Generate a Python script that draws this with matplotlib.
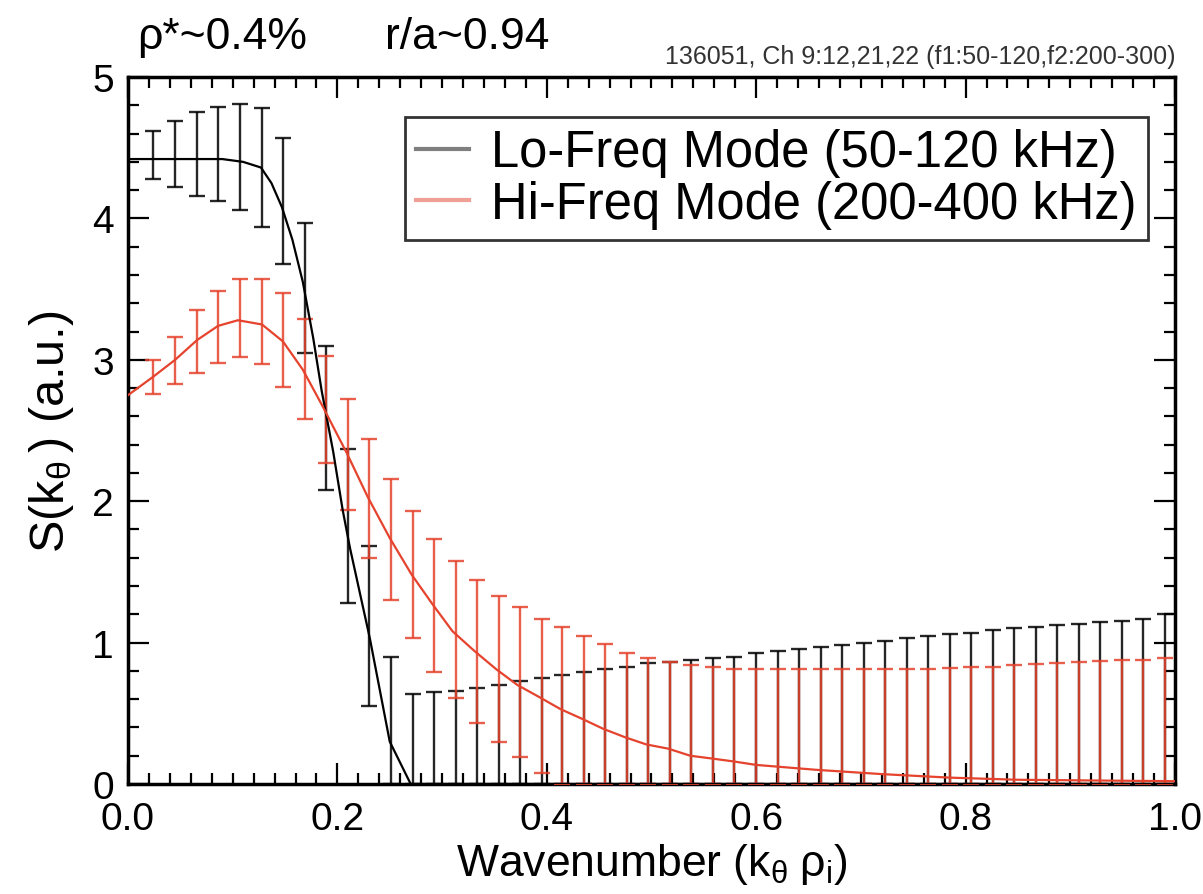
import numpy as np
import matplotlib
matplotlib.use("Agg")
import matplotlib.pyplot as plt

plt.rcParams['font.family'] = ['Liberation Sans', 'DejaVu Sans']
plt.rcParams['mathtext.fontset'] = 'custom'
plt.rcParams['mathtext.rm'] = 'Liberation Sans'
plt.rcParams['mathtext.it'] = 'Liberation Sans'
plt.rcParams['mathtext.default'] = 'regular'

# error bar positions (k_theta rho_i)
kx = [0.024, 0.045, 0.066, 0.086, 0.107, 0.128, 0.148, 0.169, 0.189, 0.210,
      0.230, 0.251, 0.272, 0.292, 0.313, 0.333, 0.354, 0.374, 0.395, 0.415,
      0.436, 0.456, 0.477, 0.497, 0.518, 0.538, 0.559, 0.579, 0.600, 0.621,
      0.641, 0.662, 0.682, 0.703, 0.723, 0.744, 0.764, 0.785, 0.805, 0.826,
      0.846, 0.867, 0.887, 0.908, 0.928, 0.949, 0.969, 0.990]

# low-frequency mode error bars (upper / lower)
lo_hi = [4.62, 4.69, 4.75, 4.79, 4.81, 4.78, 4.57, 3.97, 3.10, 2.37,
         1.68, 0.90, 0.64, 0.65, 0.66, 0.68, 0.70, 0.73, 0.75, 0.77,
         0.79, 0.81, 0.83, 0.855, 0.86, 0.875, 0.89, 0.90, 0.93, 0.94,
         0.955, 0.97, 0.985, 1.00, 1.01, 1.03, 1.05, 1.06, 1.07, 1.09,
         1.10, 1.11, 1.125, 1.13, 1.145, 1.155, 1.17, 1.20]
lo_lo = [4.28, 4.22, 4.16, 4.12, 4.06, 3.94, 3.68, 3.05, 2.08, 1.28,
         0.55] + [0.0] * 37

# high-frequency mode error bars (upper / lower)
hi_hi = [3.00, 3.16, 3.35, 3.49, 3.57, 3.57, 3.47, 3.29, 3.03, 2.72,
         2.44, 2.16, 1.93, 1.73, 1.58, 1.44, 1.33, 1.25, 1.17, 1.11,
         1.05, 0.99, 0.93, 0.89, 0.86, 0.84, 0.83, 0.81, 0.81, 0.81,
         0.81, 0.81, 0.81, 0.81, 0.81, 0.81, 0.81, 0.82, 0.83, 0.83,
         0.84, 0.85, 0.855, 0.86, 0.87, 0.875, 0.88, 0.89]
hi_lo = [2.76, 2.83, 2.91, 2.98, 3.02, 2.97, 2.81, 2.58, 2.27, 1.94,
         1.60, 1.30, 1.03, 0.79, 0.61, 0.43, 0.30, 0.19, 0.08] + [0.0] * 29

# fitted curves
lo_cx = [0.0, 0.05, 0.09, 0.11, 0.127, 0.137, 0.147, 0.157, 0.167, 0.177,
         0.185, 0.196, 0.205, 0.212, 0.231, 0.25, 0.27, 1.0]
lo_cy = [4.42, 4.42, 4.42, 4.40, 4.36, 4.25, 4.08, 3.85, 3.55, 3.15,
         2.78, 2.35, 1.94, 1.67, 1.03, 0.30, 0.0, 0.0]

hi_cx = [0.0, 0.024, 0.045, 0.066, 0.086, 0.105, 0.128, 0.148, 0.167, 0.186,
         0.209, 0.229, 0.25, 0.271, 0.291, 0.31, 0.331, 0.352, 0.372, 0.394,
         0.413, 0.434, 0.454, 0.475, 0.495, 0.516, 0.537, 0.558, 0.578, 0.6,
         0.658, 0.72, 0.785, 0.85, 0.92, 1.0]
hi_cy = [2.75, 2.88, 3.00, 3.14, 3.24, 3.28, 3.25, 3.13, 2.93, 2.67,
         2.34, 2.03, 1.74, 1.48, 1.27, 1.08, 0.94, 0.81, 0.70, 0.61,
         0.53, 0.46, 0.39, 0.33, 0.28, 0.25, 0.20, 0.18, 0.16, 0.135,
         0.10, 0.07, 0.045, 0.03, 0.025, 0.02]

black = '#000000'
red = '#e5432d'

fig = plt.figure(figsize=(12.03, 8.95), dpi=100)
ax = fig.add_axes([0.1064, 0.1229, 0.8703, 0.7899])

kx_a = np.array(kx)
for top, bot, col, z in [(lo_hi, lo_lo, black, 2), (hi_hi, hi_lo, red, 3)]:
    top = np.array(top)
    bot = np.array(bot)
    ax.errorbar(kx_a, (top + bot) / 2, yerr=(top - bot) / 2, fmt='none',
                ecolor=col, elinewidth=1.7, capsize=6, capthick=1.7,
                alpha=0.85, zorder=z)

ax.plot(lo_cx, lo_cy, color=black, lw=1.6, zorder=4,
        label='Lo-Freq Mode (50-120 kHz)')
ax.plot(hi_cx, hi_cy, color=red, lw=1.6, zorder=5,
        label='Hi-Freq Mode (200-400 kHz)')

ax.set_xlim(0, 1)
ax.set_ylim(0, 5)
ax.set_xticks(np.arange(0, 1.01, 0.2))
ax.set_xticks(np.arange(0, 1.001, 0.02), minor=True)
ax.set_yticks(range(6))
ax.set_yticks(np.arange(0, 5.01, 0.2), minor=True)
ax.xaxis.set_major_formatter(matplotlib.ticker.FormatStrFormatter('%.1f'))
ax.tick_params(which='both', direction='in', top=True, right=True,
               width=1.6, labelsize=28)
ax.tick_params(which='major', length=15)
ax.tick_params(which='minor', length=8)
ax.tick_params(axis='x', pad=12)
ax.tick_params(axis='y', pad=10)
for s in ax.spines.values():
    s.set_linewidth(2.5)

ax.set_xlabel(r'Wavenumber (k$_{\theta}\;$ρ$_{i}$)', fontsize=32, labelpad=3)
ax.set_ylabel(r'S(k$_{\theta}\,$) (a.u.)', fontsize=35, labelpad=12)

leg = ax.legend(loc='upper right', bbox_to_anchor=(0.974, 0.943),
                borderaxespad=0, fontsize=36.5, frameon=True, fancybox=False,
                handlelength=1.05, handletextpad=0.43, borderpad=0.22,
                labelspacing=0.05)
leg.get_frame().set_edgecolor('black')
leg.get_frame().set_linewidth(2)
for ln in leg.get_lines():
    ln.set_linewidth(3)
    ln.set_alpha(0.5)

fig.text(0.114, 0.945, 'ρ*~0.4%', fontsize=32, va='baseline')
fig.text(0.320, 0.945, 'r/a~0.94', fontsize=32, va='baseline')
fig.text(0.977, 0.928, '136051, Ch 9:12,21,22 (f1:50-120,f2:200-300)',
         fontsize=18, ha='right', va='baseline', color='#333333')

fig.savefig('out.png', dpi=100)
